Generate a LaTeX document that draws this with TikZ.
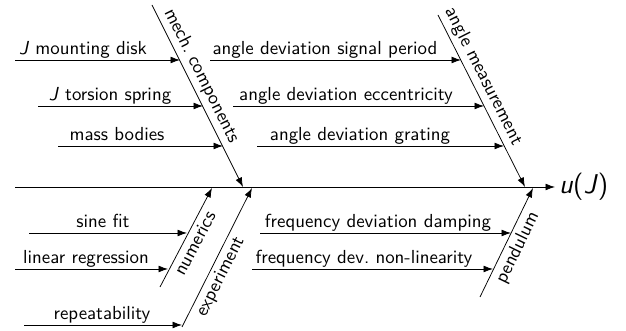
\documentclass[tikz,border=0pt]{standalone}
\usetikzlibrary{arrows.meta}

\begin{document}
\begin{tikzpicture}[x=0.53pt,y=-0.53pt,font=\sffamily,
	arr/.style={-{Latex[length=5pt,width=3.6pt]}},
	causelbl/.style={anchor=base,inner sep=0pt}]
	\useasboundingbox (0,0) rectangle (626,331);
	% The spine: the effect sits at its head
	\coordinate (tail) at (15,187);
	\coordinate (head) at (555,187);
	\draw[arr] (tail) -- (head);
	\node[right,inner sep=2pt,font=\Large\sffamily] (effect) at (head) {\textit{u}(\textit{J})};
	% Main bones: name / start / tip / label position / side / text
	\foreach \n/\ax/\ay/\bx/\by/\p/\s/\t in {
		mech/152/5/243/187/0.42/above/{mech.\ components},
		angle/438/15/525/187/0.39/above/{angle measurement},
		num/160/287/212/188/0.49/below/numerics,
		exp/182/327/252/188/0.4/below/experiment,
		pend/480/297/533/188/0.5/below/pendulum}
	{
		\coordinate (\n-s) at (\ax,\ay);
		\coordinate (\n-e) at (\bx,\by);
		\draw[arr] (\n-s) -- node[sloped,\s,pos=\p,inner sep=2pt] (\n) {\t} (\n-e);
	}
	% Causes: name / start x / tip x / y / label x / text
	\foreach \n/\sx/\ex/\y/\lx/\t in {
		disk/15/180/60/83/{\textit{J} mounting disk},
		spring/38/203/106/110/{\textit{J} torsion spring},
		mass/58/223/146/117/{mass bodies},
		period/210/461/60/325/{angle deviation signal period},
		ecc/233/484/106/346/{angle deviation eccentricity},
		grating/257/504/146/360/{angle deviation grating},
		sine/29/187/233/103/{sine fit},
		linreg/15/168/269/86/{linear regression},
		repeat/24/182/325/102/{repeatability},
		damp/260/511/233/378/{frequency deviation damping},
		nonlin/252/493/269/364/{frequency dev.\ non-linearity}}
	{
		\coordinate (\n-s) at (\sx,\y);
		\coordinate (\n-e) at (\ex,\y);
		\draw[arr] (\n-s) -- (\n-e);
		\node[causelbl] (\n) at (\lx,\y-5) {\t};
	}
\end{tikzpicture}
\end{document}
